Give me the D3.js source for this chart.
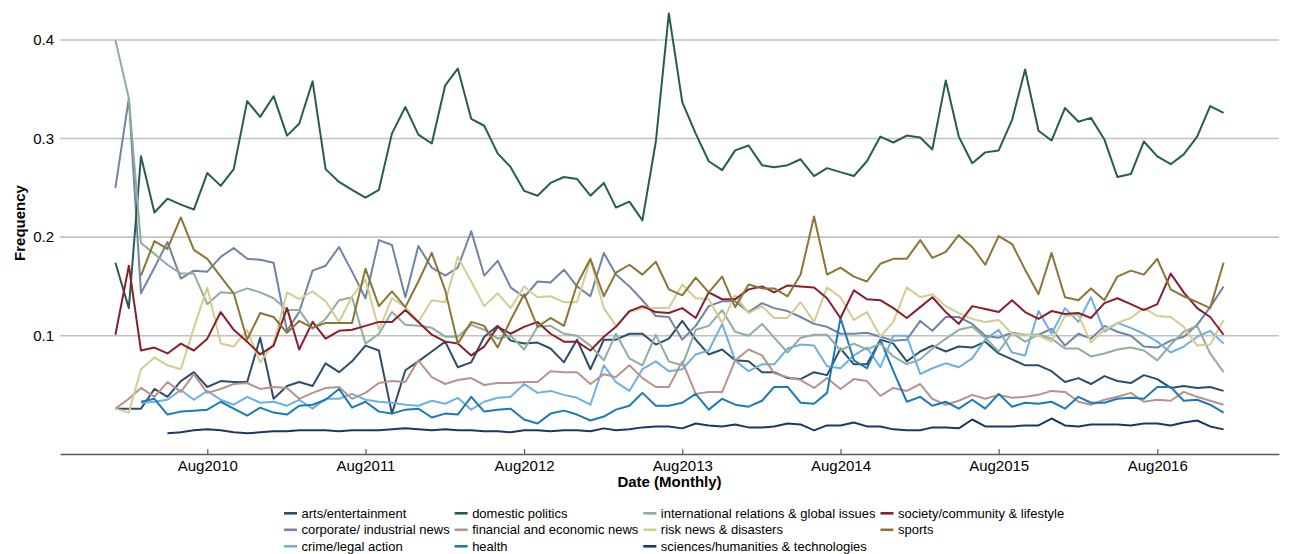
<!DOCTYPE html>
<html>
<head>
<meta charset="utf-8">
<script src="https://cdn.jsdelivr.net/npm/d3@7"></script>
<style>
  body { margin: 0; background: #fff; }
  svg { display: block; }
  text { font-family: "Liberation Sans", Arial, Helvetica, sans-serif; fill: #000; }
</style>
</head>
<body>
<svg id="chart" width="1291" height="554"></svg>
<script>
// Monthly topic frequencies, Jan 2010 – Jan 2017 (85 months); null = no data yet
const categories = [
  "arts/entertainment", "corporate/ industrial news", "crime/legal action",
  "domestic politics", "financial and economic news", "health",
  "international relations & global issues", "risk news & disasters",
  "sciences/humanities & technologies", "society/community & lifestyle", "sports"
];
const tickYears = [2010, 2011, 2012, 2013, 2014, 2015, 2016];
const yTicks = [0.1, 0.2, 0.3, 0.4];

const arts = [.026,.026,.026,.046,.038,.054,.063,.048,.054,.053, .053,.098,.036,.049,.053,.049,.072,.063,.074,.090,
  .085,.021,.065,.074,.084,.094,.068,.073,.099,.110, .095,.092,.093,.087,.073,.096,.066,.096,.096,.102,
  .102,.091,.097,.115,.096,.081,.086,.075,.074,.063, .063,.057,.056,.063,.060,.087,.071,.071,.096,.092,
  .074,.084,.090,.084,.089,.088,.094,.082,.076,.070, .070,.064,.053,.057,.051,.059,.054,.052,.060,.056,
  .047,.049,.047,.048,.044];
const corporate = [.250,.341,.143,.169,.195,.158,.166,.165,.180,.189, .178,.177,.174,.105,.124,.166,.171,.190,.165,.138,
  .197,.192,.139,.191,.169,.161,.169,.206,.161,.176, .149,.139,.155,.154,.167,.150,.140,.184,.162,.150,
  .136,.120,.119,.096,.110,.130,.135,.135,.124,.133, .128,.125,.119,.112,.109,.102,.102,.103,.099,.095,
  .096,.115,.105,.119,.119,.112,.100,.098,.103,.101, .101,.107,.090,.102,.097,.110,.104,.100,.089,.088,
  .095,.099,.111,.129,.150];
const crime = [null,null,.032,.033,.035,.045,.035,.044,.035,.030, .038,.032,.033,.029,.035,.026,.036,.036,.041,.035,
  .033,.032,.030,.029,.034,.031,.037,.025,.033,.037, .038,.051,.042,.044,.040,.037,.030,.070,.053,.044,
  .066,.074,.064,.066,.081,.085,.112,.075,.064,.071, .071,.087,.091,.090,.069,.067,.080,.088,.068,.100,
  .100,.061,.067,.072,.068,.077,.096,.106,.083,.080, .125,.102,.128,.114,.139,.104,.113,.108,.102,.094,
  .083,.089,.099,.105,.092];
const domestic = [.174,.128,.282,.225,.239,.233,.228,.265,.252,.269, .338,.322,.343,.303,.315,.358,.269,.256,.248,.240,
  .248,.305,.332,.304,.295,.354,.371,.320,.313,.285, .271,.247,.242,.255,.261,.259,.242,.255,.230,.236,
  .217,.297,.427,.337,.305,.277,.268,.288,.293,.273, .271,.273,.279,.262,.270,.266,.262,.277,.302,.296,
  .303,.301,.289,.359,.302,.275,.286,.288,.319,.370, .308,.298,.331,.317,.321,.299,.261,.264,.297,.282,
  .274,.284,.302,.333,.326];
const financial = [.026,.036,.047,.038,.053,.043,.061,.042,.046,.051, .052,.046,.048,.047,.036,.042,.047,.048,.036,.042,
  .052,.054,.053,.075,.058,.051,.055,.057,.050,.052, .052,.053,.053,.064,.063,.063,.051,.061,.058,.070,
  .057,.048,.048,.074,.041,.043,.043,.075,.086,.080, .062,.058,.055,.047,.057,.046,.056,.054,.039,.047,
  .044,.051,.036,.030,.034,.040,.036,.040,.037,.038, .040,.044,.043,.033,.030,.035,.038,.042,.033,.035,
  .034,.043,.038,.034,.030];
const health = [null,null,.033,.036,.020,.023,.024,.025,.033,.026, .019,.027,.022,.020,.029,.030,.035,.046,.027,.033,
  .023,.021,.025,.026,.017,.021,.020,.038,.023,.025, .026,.015,.011,.021,.024,.020,.014,.018,.025,.029,
  .042,.029,.029,.032,.041,.025,.036,.030,.028,.034, .048,.048,.032,.031,.042,.118,.075,.067,.096,.064,
  .033,.038,.029,.033,.026,.035,.026,.041,.028,.032, .031,.033,.026,.038,.032,.032,.036,.037,.036,.048,
  .048,.034,.035,.030,.022];
const international = [.400,.341,.194,.183,.172,.163,.163,.132,.144,.143, .148,.144,.138,.126,.126,.107,.117,.136,.139,.092,
  .102,.124,.111,.110,.108,.099,.099,.111,.106,.097, .100,.086,.109,.110,.102,.100,.090,.075,.102,.077,
  .070,.101,.074,.070,.106,.110,.126,.104,.100,.112, .098,.083,.098,.101,.101,.085,.092,.086,.092,.079,
  .071,.076,.087,.097,.106,.109,.098,.084,.103,.094, .101,.097,.087,.087,.079,.082,.086,.088,.085,.075,
  .091,.104,.110,.082,.063];
const risk = [.026,.022,.066,.078,.070,.066,.108,.149,.092,.089, .106,.073,.092,.144,.137,.145,.135,.114,.140,.157,
  .106,.138,.129,.114,.136,.134,.180,.155,.130,.143, .128,.150,.139,.140,.134,.134,.177,.128,.110,.124,
  .128,.128,.128,.152,.138,.137,.113,.141,.123,.130, .118,.118,.134,.114,.149,.139,.116,.124,.099,.114,
  .149,.139,.142,.130,.123,.117,.114,.116,.102,.101, .100,.094,.120,.121,.093,.106,.113,.118,.128,.120,
  .119,.109,.090,.091,.116];
const sciences = [null,null,null,null,.001,.002,.004,.005,.004,.002, .001,.002,.003,.003,.004,.004,.004,.003,.004,.004,
  .004,.005,.006,.005,.004,.005,.004,.004,.003,.003, .002,.004,.004,.003,.004,.004,.003,.006,.004,.005,
  .007,.008,.008,.006,.011,.009,.008,.010,.007,.007, .008,.011,.010,.004,.009,.009,.012,.008,.008,.005,
  .004,.004,.007,.007,.006,.015,.008,.008,.008,.009, .009,.016,.009,.008,.010,.010,.010,.009,.011,.011,
  .009,.012,.014,.008,.005];
const society = [.101,.171,.085,.088,.082,.092,.085,.097,.124,.106, .094,.081,.090,.128,.086,.114,.097,.105,.106,.110,
  .114,.114,.126,.114,.101,.094,.092,.080,.089,.109, .102,.109,.114,.102,.094,.094,.085,.099,.109,.125,
  .130,.124,.123,.128,.118,.144,.137,.137,.147,.150, .144,.151,.150,.149,.138,.118,.146,.137,.136,.128,
  .118,.129,.139,.124,.112,.130,.127,.124,.136,.124, .117,.125,.122,.123,.118,.133,.138,.132,.126,.132,
  .163,.144,.128,.119,.101];
const sports = [null,null,.161,.196,.188,.220,.187,.178,.160,.143, .096,.123,.119,.103,.115,.108,.113,.113,.113,.168,
  .130,.145,.129,.155,.184,.146,.092,.114,.110,.088, .116,.142,.109,.118,.110,.152,.178,.140,.164,.172,
  .162,.175,.147,.141,.159,.144,.160,.129,.152,.148, .148,.140,.162,.221,.162,.169,.160,.155,.173,.178,
  .178,.197,.179,.185,.202,.190,.172,.201,.193,.167, .142,.184,.139,.136,.148,.136,.160,.166,.162,.178,
  .147,.140,.134,.128,.174];

const seriesValues = [arts, corporate, crime, domestic, financial, health,
  international, risk, sciences, society, sports];
const colors = ["#2e4d6b", "#7084a5", "#6cb0e4", "#255e50", "#b8938e", "#1a7bb6",
  "#8fae9f", "#d3cd8f", "#1b3864", "#8a1e2c", "#8b7434"];

const months = d3.range(arts.length).map(i => new Date(2010, i, 1));

const svg = d3.select("#chart");
const panel = { left: 60, right: 1279, bottom: 454 };

// time axis padded 5% on each side of the data span
const t0 = months[0].getTime(), t1 = months[months.length - 1].getTime();
const pad = (t1 - t0) * 0.05;
const x = d3.scaleTime()
  .domain([new Date(t0 - pad), new Date(t1 + pad)])
  .range([panel.left, panel.right]);
const y = d3.scaleLinear().domain([-0.02, 0.4]).range([panel.bottom, 40]);

// horizontal grid
svg.append("g").selectAll("line").data(yTicks).join("line")
  .attr("x1", panel.left).attr("x2", panel.right)
  .attr("y1", d => y(d)).attr("y2", d => y(d))
  .attr("stroke", "#c2c2c2").attr("stroke-width", 1.6);

// y axis labels
const yAxis = svg.append("g").attr("transform", `translate(${panel.left},0)`)
  .call(d3.axisLeft(y).tickValues(yTicks).tickFormat(d3.format(".1f")).tickSize(0).tickPadding(6));
yAxis.select(".domain").remove();
yAxis.selectAll("text").attr("font-size", 15).style("font-family", null);

// x axis
const xAxis = svg.append("g").attr("transform", `translate(0,${panel.bottom})`)
  .call(d3.axisBottom(x)
    .tickValues(tickYears.map(yr => new Date(yr, 7, 1)))
    .tickFormat(d3.timeFormat("%b%Y"))
    .tickSizeInner(-5).tickSizeOuter(0).tickPadding(6));
xAxis.select(".domain").attr("stroke", "#5a5a5a").attr("stroke-width", 1.4);
xAxis.selectAll(".tick line").attr("stroke", "#5a5a5a").attr("stroke-width", 1.2);
xAxis.selectAll("text").attr("font-size", 15).style("font-family", null);

// axis titles
svg.append("text").attr("x", (panel.left + panel.right) / 2).attr("y", 487)
  .attr("text-anchor", "middle").attr("font-size", 15).attr("font-weight", "bold")
  .text("Date (Monthly)");
svg.append("text").attr("transform", "translate(24.5,223) rotate(-90)")
  .attr("text-anchor", "middle").attr("font-size", 15).attr("font-weight", "bold")
  .text("Frequency");

// series lines
const line = d3.line()
  .defined(d => d.v != null)
  .x(d => x(d.date)).y(d => y(d.v));
svg.append("g").selectAll("path")
  .data(seriesValues.map((vals, k) => ({ k, pts: vals.map((v, i) => ({ date: months[i], v })) })))
  .join("path")
  .attr("d", d => line(d.pts))
  .attr("fill", "none")
  .attr("stroke", d => colors[d.k])
  .attr("stroke-width", 2)
  .attr("stroke-linejoin", "round");

// legend: 3 rows, filled column by column
const legend = svg.append("g");
const rows = 3, rowY = [513.3, 529.8, 546.3], swatch = 13, textGap = 4.5, colGap = 5;
let colX = 284;
for (let c = 0; c * rows < categories.length; c++) {
  let maxW = 0;
  for (let r = 0; r < rows; r++) {
    const k = c * rows + r;
    if (k >= categories.length) break;
    legend.append("line")
      .attr("x1", colX).attr("x2", colX + swatch)
      .attr("y1", rowY[r]).attr("y2", rowY[r])
      .attr("stroke", colors[k]).attr("stroke-width", 2.6);
    const t = legend.append("text")
      .attr("x", colX + swatch + textGap).attr("y", rowY[r] + 4.6)
      .attr("font-size", 13).text(categories[k]);
    maxW = Math.max(maxW, t.node().getComputedTextLength());
  }
  colX += swatch + textGap + maxW + colGap;
}
</script>
</body>
</html>
